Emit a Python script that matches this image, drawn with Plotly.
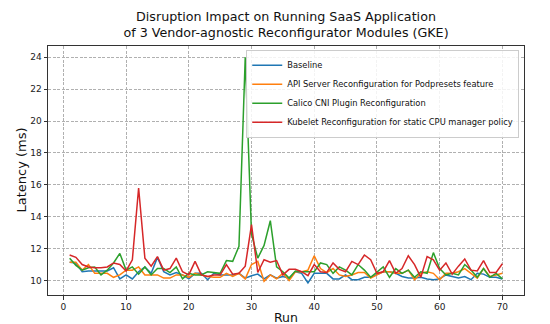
import plotly.graph_objects as go

runs = list(range(1, 71))

baseline = [11.15, 11.1, 10.55, 10.6, 10.6, 10.6, 10.6, 10.8, 10.1, 10.35,
            10.1, 10.55, 10.85, 10.45, 11.45, 10.55, 10.35, 10.5, 10.35, 10.1,
            10.45, 10.45, 10.05, 10.45, 10.35, 10.35, 10.35, 10.45, 10.15, 10.3,
            10.4, 10.1, 10.35, 10.15, 10.25, 10.15, 10.55, 10.45, 9.85, 10.45,
            10.45, 10.45, 10.1, 10.1, 10.35, 10.05, 10.05, 10.2, 10.2, 10.35,
            10.55, 10.55, 10.45, 10.25, 10.15, 10.15, 10.2, 10.1, 10.05, 10.1,
            10.35, 10.25, 10.15, 10.25, 10.05, 10.45, 10.4, 10.2, 10.2, 10.1]

api_server = [11.15, 11.15, 10.65, 11.0, 10.45, 10.45, 10.45, 10.2, 10.35, 10.65,
              10.65, 10.85, 10.35, 10.35, 10.35, 10.15, 10.15, 10.35, 10.35, 10.2,
              10.45, 10.35, 10.25, 10.2, 10.2, 10.45, 10.25, 10.45, 10.1, 11.0,
              11.2, 9.95, 10.35, 10.1, 10.45, 10.0, 10.55, 10.55, 10.65, 11.55,
              10.75, 10.5, 10.75, 10.35, 10.25, 10.35, 10.5, 10.5, 10.15, 10.35,
              10.55, 10.55, 10.45, 10.45, 10.65, 10.05, 10.45, 10.55, 10.45, 10.05,
              10.45, 10.45, 10.55, 10.75, 10.45, 10.15, 10.75, 10.25, 10.35, 10.45]

calico = [11.4, 10.95, 10.65, 10.8, 10.85, 10.35, 10.65, 11.1, 11.7, 10.65,
          10.85, 10.4, 10.85, 10.35, 10.75, 10.75, 10.5, 10.85, 10.1, 10.45,
          10.35, 10.35, 10.55, 10.5, 10.45, 11.25, 11.2, 12.15, 24.0, 12.9,
          11.4, 12.2, 13.75, 10.85, 10.55, 10.15, 10.6, 10.55, 10.55, 10.55,
          11.1, 11.0, 10.45, 10.85, 10.65, 10.35, 11.0, 10.65, 10.2, 10.55,
          10.85, 10.2, 10.75, 10.45, 10.65, 10.2, 10.55, 10.45, 11.75, 10.75,
          10.35, 10.45, 10.35, 11.0, 10.65, 10.2, 10.75, 10.2, 10.45, 10.1]

kubelet = [11.6, 11.45, 11.0, 10.85, 10.8, 10.8, 10.85, 11.1, 11.0, 10.6,
           11.3, 15.8, 11.4, 10.9, 11.5, 10.65, 10.75, 11.4, 10.55, 10.35,
           11.2, 10.35, 10.25, 10.35, 10.35, 11.0, 10.4, 10.45, 10.9, 13.5,
           10.5, 11.3, 11.15, 11.25, 10.35, 10.7, 10.7, 10.55, 10.3, 11.0,
           10.55, 10.5, 11.1, 10.7, 10.55, 11.2, 11.0, 11.6, 11.3, 10.45,
           10.55, 11.25, 10.45, 10.75, 11.55, 11.0, 10.2, 11.5, 11.3, 10.65,
           11.1, 10.4, 10.9, 11.35, 10.65, 10.6, 11.25, 10.5, 10.5, 11.05]

series_names = ["Baseline",
                "API Server Reconfiguration for Podpresets feature",
                "Calico CNI Plugin Reconfiguration",
                "Kubelet Reconfiguration for static CPU manager policy"]
series_values = [baseline, api_server, calico, kubelet]
colors = ["#1f77b4", "#ff7f0e", "#2ca02c", "#d62728"]

x_ticks = [0, 10, 20, 30, 40, 50, 60, 70]
y_ticks = [10, 12, 14, 16, 18, 20, 22, 24]

FONT = "DejaVu Sans"

fig = go.Figure()
for name, vals, c in zip(series_names, series_values, colors):
    fig.add_trace(go.Scatter(x=runs, y=vals, mode="lines", name=name,
                             line=dict(color=c, width=1.5)))

axis_common = dict(showline=True, mirror=True, linecolor="#333333", linewidth=1,
                   ticks="outside", ticklen=3.5, tickwidth=0.8, tickcolor="#333333",
                   showgrid=True, gridcolor="#b0b0b0", gridwidth=0.8,
                   griddash="3px,1.5px", zeroline=False, automargin=False,
                   tickfont=dict(family=FONT, size=9, color="#222222"))

fig.update_xaxes(range=[-2.45, 73.45], tickvals=x_ticks, **axis_common)
fig.update_yaxes(range=[9.09, 24.71], tickvals=y_ticks, **axis_common)

# axis titles as annotations placed relative to the plot area
fig.add_annotation(text="Run", xref="paper", yref="paper", x=0.5, y=0,
                   xanchor="center", yanchor="middle", yshift=-22, showarrow=False,
                   borderpad=0,
                   font=dict(family=FONT, size=12.5, color="#111111"))
fig.add_annotation(text="Latency (ms)", xref="paper", yref="paper", x=0, y=0.5,
                   xanchor="center", yanchor="middle", xshift=-27, textangle=-90,
                   showarrow=False, borderpad=0,
                   font=dict(family=FONT, size=13, color="#111111"))

fig.update_layout(
    width=550, height=324,
    margin=dict(l=40, r=34, t=38, b=37, autoexpand=False),
    paper_bgcolor="white", plot_bgcolor="white",
    font=dict(family=FONT, color="#111111"),
    title=dict(text="Disruption Impact on Running SaaS Application<br>of 3 Vendor-agnostic Reconfigurator Modules (GKE)",
               x=0.5, xref="paper", xanchor="center",
               y=1 - 12.7 / 324, yref="container", yanchor="middle",
               automargin=False,
               font=dict(family=FONT, size=12.7, color="#111111")),
    legend=dict(x=0.99, y=0.985, xanchor="right", yanchor="top",
                bgcolor="rgba(255,255,255,0.85)", bordercolor="#cccccc", borderwidth=1,
                font=dict(family=FONT, size=8.3, color="#111111"),
                tracegroupgap=0),
    showlegend=True,
)

fig.write_html("out.html")
